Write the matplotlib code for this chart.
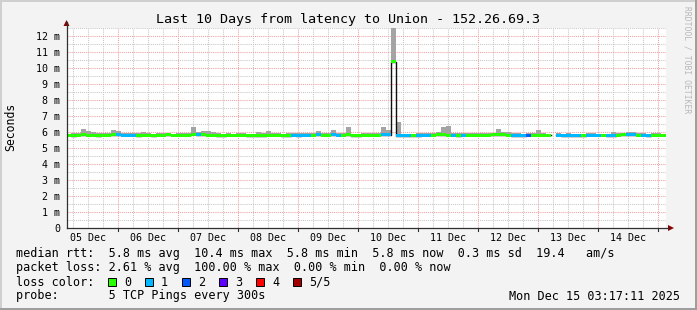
import numpy as np
import matplotlib.pyplot as plt
from matplotlib.patches import Rectangle, Polygon
from matplotlib.lines import Line2D

W, H = 697, 310
MONO = 'DejaVu Sans Mono'

# 2-hour bins, window starts Fri Dec 05 03:17:11 (240 h long)
median_ms = [
    5.80, 5.78, 5.80, 5.82, 5.80, 5.80, 5.78, 5.80, 5.80, 5.82, 5.82, 5.80,
    5.80, 5.80, 5.78, 5.80, 5.80, 5.78, 5.80, 5.80, 5.82, 5.80, 5.80, 5.80,
    5.80, 5.85, 5.82, 5.82, 5.80, 5.80, 5.78, 5.78, 5.80, 5.80, 5.80, 5.80,
    5.78, 5.76, 5.76, 5.78, 5.80, 5.80, 5.80, 5.78, 5.78, 5.80, 5.78, 5.80,
    5.80, 5.80, 5.82, 5.80, 5.80, 5.82, 5.80, 5.80, 5.82, 5.78, 5.78, 5.80,
    5.80, 5.80, 5.80, 5.82, 5.82, 10.40, 5.78, 5.76, 5.76, 5.78, 5.78, 5.80,
    5.80, 5.80, 5.82, 5.82, 5.80, 5.80, 5.78, 5.80, 5.80, 5.80, 5.80, 5.80,
    5.80, 5.82, 5.84, 5.82, 5.80, 5.78, 5.78, 5.78, 5.80, 5.80, 5.80, 5.80,
    5.80, np.nan, 5.80, 5.78, 5.78, 5.78, 5.78, 5.78, 5.80, 5.80, 5.80, 5.80,
    5.78, 5.78, 5.80, 5.82, 5.84, 5.82, 5.80, 5.80, 5.78, 5.80, 5.80, 5.80,
]
smoke_max_ms = [
    5.90, 5.92, 5.95, 6.20, 6.05, 6.02, 5.95, 5.92, 5.95, 6.10, 6.05, 5.95,
    5.95, 5.95, 5.92, 6.00, 5.92, 5.90, 5.92, 5.95, 5.92, 5.90, 5.92, 5.95,
    5.92, 6.30, 6.02, 6.05, 6.05, 6.02, 5.92, 5.90, 5.92, 5.90, 5.92, 5.95,
    5.90, 5.88, 6.00, 5.92, 6.05, 5.95, 5.92, 5.90, 5.92, 5.95, 5.92, 5.92,
    5.92, 5.95, 6.08, 5.95, 5.92, 6.12, 5.95, 5.92, 6.30, 5.90, 5.90, 5.92,
    5.92, 5.95, 5.95, 6.30, 6.10, 12.50, 6.65, 5.90, 5.88, 5.90, 5.95, 5.92,
    5.92, 5.95, 6.00, 6.30, 6.40, 5.95, 5.92, 5.95, 5.92, 5.92, 5.95, 5.92,
    5.92, 5.95, 6.20, 5.98, 6.00, 5.95, 5.92, 5.90, 5.92, 5.95, 6.10, 5.92,
    5.90, np.nan, 5.92, 5.90, 5.95, 5.90, 5.90, 5.90, 5.92, 5.92, 5.90, 5.90,
    5.90, 5.97, 5.92, 5.95, 6.00, 5.98, 5.95, 5.92, 5.90, 5.92, 5.92, 5.90,
]
loss_count = [
    0, 0, 0, 0, 0, 0, 0, 0, 0, 0, 1, 1,
    1, 1, 0, 0, 0, 0, 0, 0, 0, 0, 0, 0,
    0, 0, 1, 0, 0, 0, 0, 0, 0, 0, 0, 0,
    0, 0, 0, 0, 0, 0, 0, 0, 0, 1, 1, 1,
    1, 0, 1, 0, 0, 1, 1, 0, 0, 0, 0, 0,
    0, 0, 0, 1, 1, 0, 1, 1, 1, 0, 1, 1,
    1, 0, 0, 0, 0, 1, 0, 1, 0, 0, 0, 0,
    0, 0, 0, 0, 0, 1, 1, 1, 2, 0, 0, 0,
    0, 0, 1, 1, 1, 1, 1, 0, 1, 1, 1, 0,
    1, 1, 0, 0, 1, 1, 0, 1, 1, 0, 0, 0,
]
bin_hours = 2
first_midnight_h = 20.714  # Dec 06 00:00, hours after window start
day_labels = ['05 Dec', '06 Dec', '07 Dec', '08 Dec', '09 Dec',
              '10 Dec', '11 Dec', '12 Dec', '13 Dec', '14 Dec']
y_ticks = list(range(13))
y_tick_labels = ['0'] + ['%d m' % v for v in range(1, 13)]

loss_labels = ['0', '1', '2', '3', '4', '5/5']
loss_colors = ['#26ff00', '#00b8ff', '#0059ff', '#5e00ff', '#ff0000', '#a00000']

stat_lines = [
    'median rtt:  5.8 ms avg  10.4 ms max  5.8 ms min  5.8 ms now  0.3 ms sd  19.4   am/s',
    'packet loss: 2.61 % avg  100.00 % max  0.00 % min  0.00 % now',
]
probe_text = 'probe:       5 TCP Pings every 300s'
stamp_text = 'Mon Dec 15 03:17:11 2025'
title = 'Last 10 Days from latency to Union - 152.26.69.3'


def fx(x):
    return x / W


def fy(y):
    return 1 - y / H


fig = plt.figure(figsize=(W / 100, H / 100), dpi=100, facecolor='#F3F3F3')
ax = fig.add_axes([fx(66.5), fy(228), (666 - 66.5) / W, 200 / H])
ax.set_facecolor('white')
ax.set_xlim(0, 240)
ax.set_ylim(0, 12.5)
for s in ax.spines.values():
    s.set_visible(False)

# grid
dot = (0, (1, 1))
for h in np.arange(first_midnight_h - 18, 240, 6):
    major = abs(((h - first_midnight_h) / 24) - round((h - first_midnight_h) / 24)) < 1e-6
    ax.axvline(h, color='#EFA0A0' if major else '#C8C8C8', lw=0.75, ls=dot, zorder=1)
for v in np.arange(0.5, 12.6, 0.5):
    ax.axhline(v, color='#EFA0A0' if v % 1 == 0 else '#C8C8C8', lw=0.75, ls=dot, zorder=1)

# data
med = np.array(median_ms, dtype=float)
top = np.array(smoke_max_ms, dtype=float)
starts = np.arange(len(med)) * bin_hours
ax.bar(starts, top - (med - 0.05), bottom=med - 0.05, width=bin_hours, align='edge',
       color='#A4A4A4', linewidth=0, zorder=2)
edges = np.append(starts, 240)
ax.step(edges, np.append(med, med[-1]), where='post', color='#101010', lw=1.0, zorder=3)
band_colors = [loss_colors[c] for c in loss_count]
ax.bar(starts, 0.19, bottom=med - 0.09, width=bin_hours, align='edge',
       color=band_colors, linewidth=0, zorder=4)

# ticks
ax.set_yticks(y_ticks, y_tick_labels)
label_pos = [first_midnight_h - 12 + 24 * k for k in range(len(day_labels))]
ax.set_xticks(label_pos, day_labels)
ax.tick_params(axis='both', length=0, labelsize=7.2)
ax.tick_params(axis='y', pad=4.5)
ax.tick_params(axis='x', pad=3.5)
for lab in ax.get_xticklabels() + ax.get_yticklabels():
    lab.set_family(MONO)

# axis lines and arrows
fig.add_artist(Line2D([fx(66.5), fx(66.5)], [fy(228), fy(22)], color='#303030', lw=0.9))
fig.add_artist(Line2D([fx(66.5), fx(669)], [fy(228), fy(228)], color='#303030', lw=0.9))
fig.add_artist(Polygon([[fx(63.5), fy(26)], [fx(69.5), fy(26)], [fx(66.5), fy(20)]],
                       closed=True, color='#8B0000', lw=0))
fig.add_artist(Polygon([[fx(668), fy(225)], [fx(668), fy(231)], [fx(674), fy(228)]],
                       closed=True, color='#8B0000', lw=0))
for k in range(len(day_labels)):
    xp = 66.5 + (first_midnight_h + 24 * k) * (599.5 / 240)
    fig.add_artist(Line2D([fx(xp), fx(xp)], [fy(228), fy(231)], color='#303030', lw=0.8))

# titles
fig.text(0.5, fy(19), title, ha='center', va='center', family=MONO, fontsize=9.6)
fig.text(fx(11), fy(127), 'Seconds', rotation=90, ha='center', va='center',
         family=MONO, fontsize=8.3)
fig.text(fx(687), fy(60), 'RRDTOOL / TOBI OETIKER', rotation=270, ha='center', va='center',
         family=MONO, fontsize=5.8, color='#B8B8B8')

# legend block
for i, line in enumerate(stat_lines):
    fig.text(fx(16), fy(254 + 14 * i), line, ha='left', va='center', family=MONO, fontsize=8.5)
fig.text(fx(16), fy(282), 'loss color:', ha='left', va='center', family=MONO, fontsize=8.5)
for k, (lab, col) in enumerate(zip(loss_labels, loss_colors)):
    bx = 108 + 37 * k
    fig.add_artist(Rectangle((fx(bx), fy(286)), 8 / W, 8 / H, facecolor=col,
                             edgecolor='black', lw=0.7))
    fig.text(fx(bx + 16), fy(282), lab, ha='left', va='center', family=MONO, fontsize=8.5)
fig.text(fx(16), fy(296), probe_text, ha='left', va='center', family=MONO, fontsize=8.5)
fig.text(fx(680), fy(296), stamp_text, ha='right', va='center', family=MONO, fontsize=8.5)

# 3d frame
fig.add_artist(Rectangle((0, fy(2)), 1, 2 / H, color='#CFCFCF', lw=0))
fig.add_artist(Rectangle((0, 0), 2 / W, 1, color='#CFCFCF', lw=0))
fig.add_artist(Rectangle((0, 0), 1, 2 / H, color='#9E9E9E', lw=0))
fig.add_artist(Rectangle((fx(695), 0), 2 / W, 1, color='#9E9E9E', lw=0))

plt.savefig('out.png', dpi=100, facecolor=fig.get_facecolor())
